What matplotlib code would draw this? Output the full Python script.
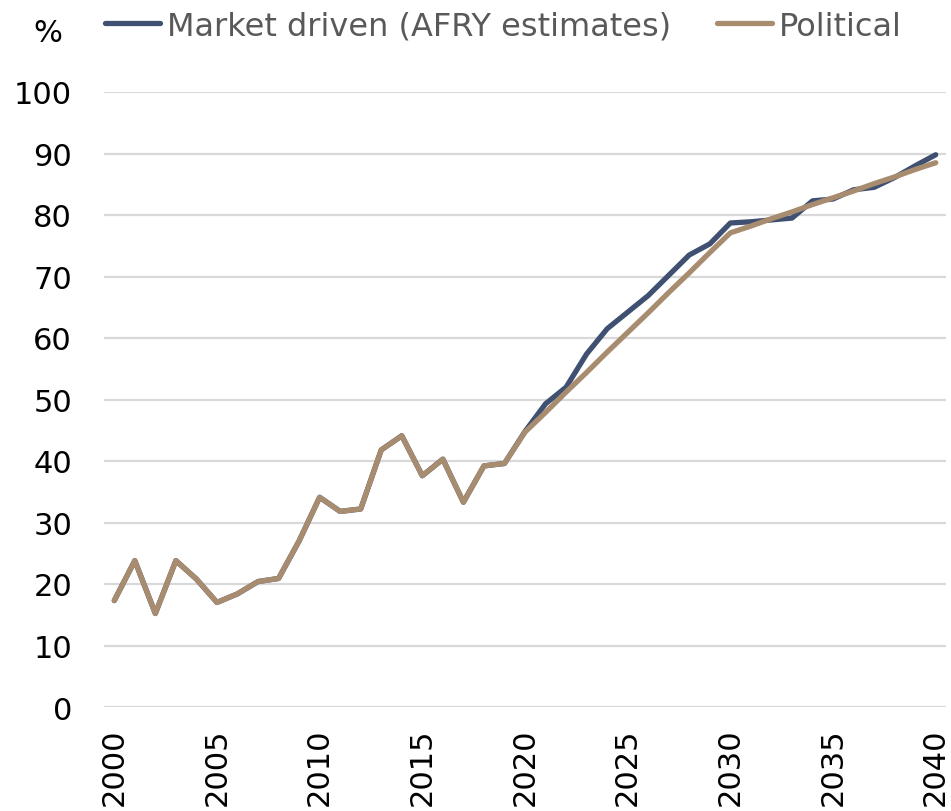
import matplotlib
matplotlib.use("Agg")
import matplotlib.pyplot as plt
import numpy as np

years = list(range(2000, 2041))
market_driven = [17.3, 23.8, 15.2, 23.8, 20.8, 17.0, 18.4, 20.4, 20.9, 27.0,
                 34.1, 31.8, 32.2, 41.8, 44.1, 37.6, 40.3, 33.3, 39.2, 39.6,
                 44.8, 49.3, 52.0, 57.4, 61.5, 64.2, 66.9, 70.2, 73.5, 75.3,
                 78.7, 78.9, 79.2, 79.5, 82.3, 82.6, 84.1, 84.5, 86.1, 88.0, 89.8]
political = [17.3, 23.8, 15.2, 23.8, 20.8, 17.0, 18.4, 20.4, 20.9, 27.0,
             34.1, 31.8, 32.2, 41.8, 44.1, 37.6, 40.3, 33.3, 39.2, 39.6,
             44.7, 47.9, 51.2, 54.4, 57.7, 60.9, 64.1, 67.4, 70.6, 73.9,
             77.1, 78.2, 79.4, 80.5, 81.7, 82.8, 83.9, 85.1, 86.2, 87.4, 88.5]
series_names = ["Market driven (AFRY estimates)", "Political"]
colors = ["#3F5071", "#A88C6F"]
yticks = [0, 10, 20, 30, 40, 50, 60, 70, 80, 90, 100]
xtick_years = [2000, 2005, 2010, 2015, 2020, 2025, 2030, 2035, 2040]

fig = plt.figure(figsize=(9.51, 8.12), dpi=100)
ax = fig.add_axes([104/951, 1 - 708/812, (946 - 104)/951, (708 - 93)/812])

x = np.arange(len(years))
l1, = ax.plot(x, market_driven, color=colors[0], lw=3.8, solid_joinstyle="round",
              solid_capstyle="round", label=series_names[0], zorder=3)
l2, = ax.plot(x, political, color=colors[1], lw=3.8, solid_joinstyle="round",
              solid_capstyle="round", label=series_names[1], zorder=4)

ax.set_xlim(-0.5, len(years) - 0.5)
ax.set_ylim(0, 100)
ax.set_yticks(yticks)
ax.set_yticklabels([str(v) for v in yticks], fontsize=22)
ax.set_xticks([years.index(y) for y in xtick_years])
ax.set_xticklabels([str(y) for y in xtick_years], rotation=90, fontsize=22)
ax.tick_params(axis="y", length=0, pad=23)
ax.tick_params(axis="x", length=0, pad=15)
ax.yaxis.grid(True, color="#D9D9D9", lw=1.6)
ax.set_axisbelow(True)
for s in ax.spines.values():
    s.set_visible(False)

fig.text(48/951, 1 - 33/812, "%", fontsize=22, ha="center", va="center")

leg = fig.legend(handles=[l1, l2], loc="center left", bbox_to_anchor=(105/951, 1 - 27/812),
                 ncol=2, frameon=False, fontsize=23, handlelength=1.72,
                 handletextpad=0.22, columnspacing=1.44, borderaxespad=0, borderpad=0)
for t in leg.get_texts():
    t.set_color("#595959")
for h in leg.legend_handles:
    h.set_solid_capstyle("round")

fig.savefig("out.png", dpi=100)
